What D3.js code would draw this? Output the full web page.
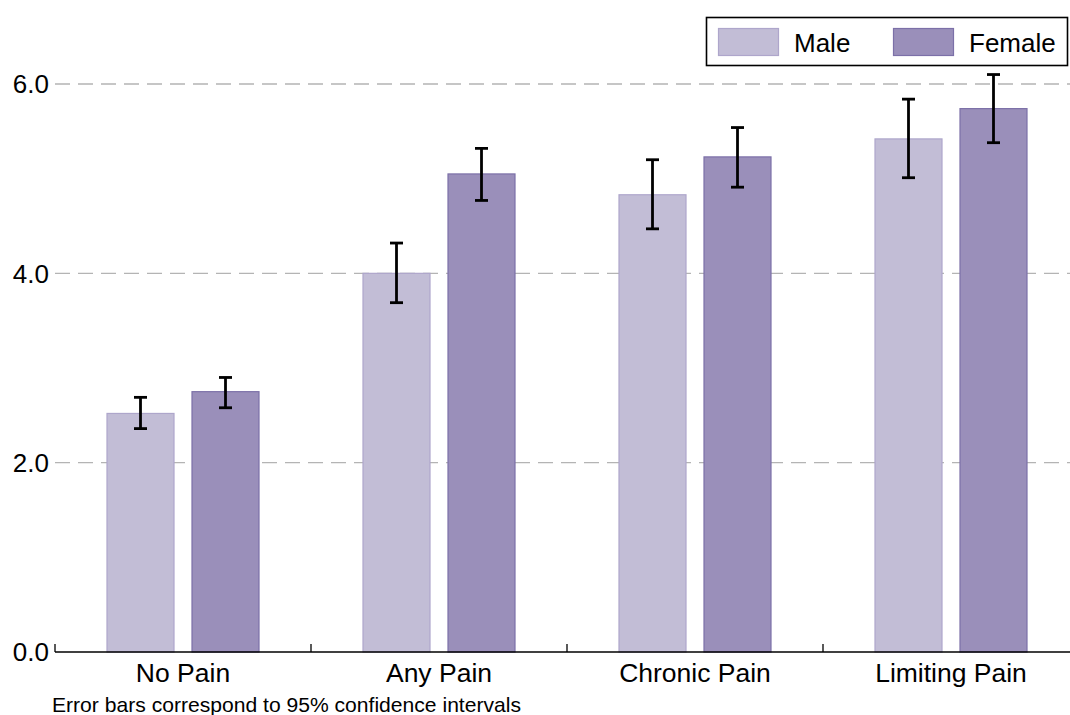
<!DOCTYPE html>
<html><head><meta charset="utf-8">
<script src="https://cdn.jsdelivr.net/npm/d3@7"></script>
<style>body{margin:0;background:#fff}svg{display:block;font-family:"Liberation Sans",Arial,sans-serif}</style>
</head><body><svg id="c" width="1070" height="715"></svg>
<script>
const categories = ["No Pain","Any Pain","Chronic Pain","Limiting Pain"];
const seriesNames = ["Male","Female"];
const maleValues = [2.52, 4.00, 4.83, 5.42];
const maleLower  = [2.36, 3.69, 4.47, 5.01];
const maleUpper  = [2.69, 4.32, 5.20, 5.84];
const femaleValues = [2.75, 5.05, 5.23, 5.74];
const femaleLower  = [2.58, 4.77, 4.91, 5.38];
const femaleUpper  = [2.90, 5.32, 5.54, 6.10];
const yTicks = [0, 2, 4, 6];
const footnote = "Error bars correspond to 95% confidence intervals";

const fills = {Male:"#c2bdd6", Female:"#9a8fba"};
const strokes = {Male:"#aea6cb", Female:"#7c70a8"};

const svg = d3.select("#c");
const x0 = d3.scaleBand().domain(categories).range([55, 1079]).paddingInner(0).paddingOuter(0);
const y = d3.scaleLinear().domain([0, 6]).range([652, 84]);
const barW = 68, off = 42.5;

// grid
svg.append("g").selectAll("line").data(yTicks.filter(d=>d>0)).join("line")
  .attr("x1", 55).attr("x2", 1070).attr("y1", d=>y(d)).attr("y2", d=>y(d))
  .attr("stroke","#b4b4b4").attr("stroke-width",1.3).attr("stroke-dasharray","15,8");

// y labels
svg.append("g").selectAll("text").data(yTicks).join("text")
  .attr("x", 49).attr("y", d=>y(d)).attr("dy","0.36em").attr("text-anchor","end")
  .attr("font-size",26).attr("fill","#000").text(d=>d3.format(".1f")(d));

const data = [];
categories.forEach((c,i)=>{
  data.push({c, s:"Male", v:maleValues[i], lo:maleLower[i], hi:maleUpper[i], dx:-off});
  data.push({c, s:"Female", v:femaleValues[i], lo:femaleLower[i], hi:femaleUpper[i], dx:off});
});
const cx = d => x0(d.c) + x0.bandwidth()/2 + d.dx;

svg.append("g").selectAll("rect").data(data).join("rect")
  .attr("x", d=>cx(d)-barW/2+0.5).attr("width", barW-1)
  .attr("y", d=>y(d.v)).attr("height", d=>y(0)-y(d.v))
  .attr("fill", d=>fills[d.s]).attr("stroke", d=>strokes[d.s]).attr("stroke-width",1.2);

// error bars
const cap = 6.5;
const eb = svg.append("g").attr("stroke","#000").attr("stroke-width",2.8);
eb.selectAll(".v").data(data).join("line").attr("x1",cx).attr("x2",cx)
  .attr("y1",d=>y(d.lo)).attr("y2",d=>y(d.hi));
eb.selectAll(".t").data(data).join("line").attr("x1",d=>cx(d)-cap).attr("x2",d=>cx(d)+cap)
  .attr("y1",d=>y(d.hi)).attr("y2",d=>y(d.hi));
eb.selectAll(".b").data(data).join("line").attr("x1",d=>cx(d)-cap).attr("x2",d=>cx(d)+cap)
  .attr("y1",d=>y(d.lo)).attr("y2",d=>y(d.lo));

// x axis
svg.append("line").attr("x1",55).attr("x2",1070).attr("y1",y(0)).attr("y2",y(0))
  .attr("stroke","#000").attr("stroke-width",1.3);
svg.append("g").selectAll("line").data(categories).join("line")
  .attr("x1",d=>x0(d)).attr("x2",d=>x0(d)).attr("y1",y(0)).attr("y2",y(0)-8)
  .attr("stroke","#000").attr("stroke-width",1.3);
svg.append("g").selectAll("text").data(categories).join("text")
  .attr("x", d=>x0(d)+x0.bandwidth()/2).attr("y", 682).attr("text-anchor","middle")
  .attr("font-size",26.5).attr("fill","#000").text(d=>d);
svg.append("text").attr("x",52).attr("y",712).attr("font-size",21.1).attr("fill","#000").text(footnote);

// legend
const lg = svg.append("g");
lg.append("rect").attr("x",706.5).attr("y",17.5).attr("width",361).attr("height",48)
  .attr("fill","#fff").attr("stroke","#000").attr("stroke-width",1.6);
const lx = [718, 893];
seriesNames.forEach((s,i)=>{
  lg.append("rect").attr("x",lx[i]+0.5).attr("y",28.5).attr("width",60).attr("height",27)
    .attr("fill",fills[s]).attr("stroke",strokes[s]).attr("stroke-width",1.2);
  lg.append("text").attr("x",lx[i]+76).attr("y",52).attr("font-size",26).attr("fill","#000").text(s);
});
</script></body></html>
